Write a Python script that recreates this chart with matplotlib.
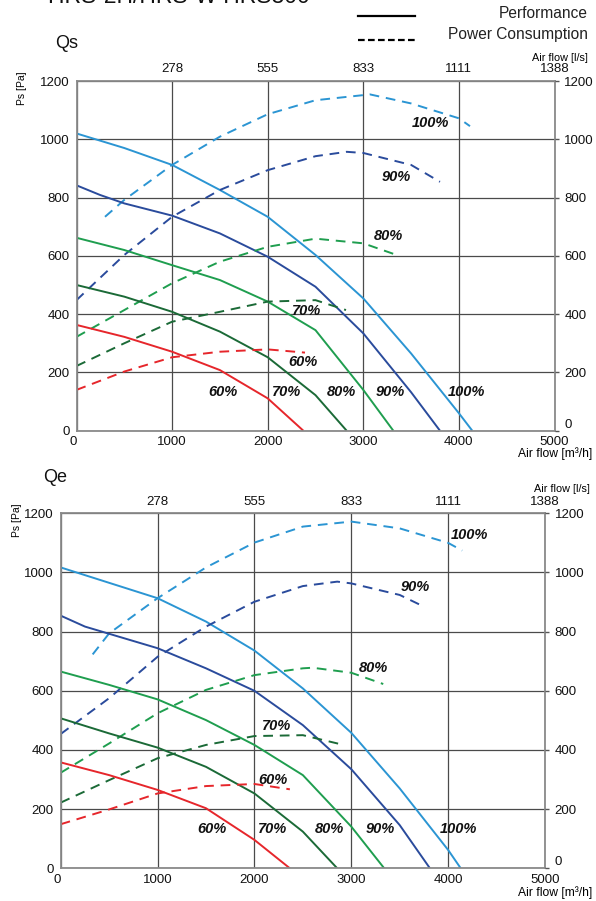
import matplotlib
matplotlib.use("Agg")
import matplotlib.pyplot as plt
from matplotlib.lines import Line2D

plt.rcParams['font.family'] = ['Liberation Sans', 'DejaVu Sans']

# ---------------- data ----------------
levels = ["100%", "90%", "80%", "70%", "60%"]
colors = ["#2b95d3", "#2a4b9c", "#1f9e4f", "#1b6a37", "#e6262b"]

x_ticks = [0, 1000, 2000, 3000, 4000, 5000]
y_ticks = [0, 200, 400, 600, 800, 1000, 1200]
ls_labels = ["278", "555", "833", "1111", "1388"]
ls_pos = [1000, 2000, 3000, 4000, 5000]

# Qs - performance (solid)
qs_perf_x = {
    "100%": [0, 500, 1000, 1500, 2000, 2500, 3000, 3500, 4000, 4140],
    "90%": [0, 246, 500, 1000, 1500, 2000, 2500, 3000, 3500, 3802],
    "80%": [0, 500, 1000, 1500, 2000, 2500, 3000, 3314],
    "70%": [0, 500, 1000, 1500, 2000, 2500, 2826],
    "60%": [0, 500, 1000, 1500, 2000, 2373],
}
qs_perf_y = {
    "100%": [1020, 970, 912, 826, 734, 603, 454, 265, 60, 0],
    "90%": [842, 809, 780, 738, 677, 597, 494, 334, 132, 0],
    "80%": [662, 620, 568, 517, 443, 345, 140, 0],
    "70%": [500, 460, 408, 340, 252, 122, 0],
    "60%": [363, 322, 271, 208, 111, 0],
}
# Qs - power consumption (dashed)
qs_pow_x = {
    "100%": [298, 500, 1000, 1500, 2000, 2500, 3070, 3500, 4000, 4116],
    "90%": [0, 500, 1000, 1500, 2000, 2500, 2826, 3000, 3500, 3802],
    "80%": [0, 500, 1000, 1500, 2000, 2500, 3000, 3349],
    "70%": [0, 500, 1000, 1500, 2000, 2500, 2819],
    "60%": [0, 500, 1000, 1500, 2000, 2390],
}
qs_pow_y = {
    "100%": [734, 792, 912, 1009, 1086, 1134, 1154, 1123, 1072, 1045],
    "90%": [448, 603, 734, 826, 894, 942, 957, 953, 912, 854],
    "80%": [322, 414, 506, 580, 631, 659, 643, 603],
    "70%": [222, 300, 374, 408, 443, 448, 414],
    "60%": [140, 203, 252, 271, 279, 268],
}
qs_pow_lbl = {"100%": (3698, 1055), "90%": (3349, 872), "80%": (3262, 669),
              "70%": (2408, 412), "60%": (2366, 235)}
qs_perf_lbl = {"100%": (4081, 132), "90%": (3279, 132), "80%": (2774, 132),
               "70%": (2199, 132), "60%": (1536, 132)}

# Qe - performance (solid)
qe_perf_x = {
    "100%": [0, 500, 1000, 1500, 2000, 2500, 3000, 3500, 4000, 4130],
    "90%": [0, 251, 1000, 1500, 2000, 2500, 3000, 3500, 3812],
    "80%": [0, 500, 1000, 1500, 2000, 2500, 3000, 3340],
    "70%": [0, 500, 1000, 1500, 2000, 2500, 2855],
    "60%": [0, 500, 1000, 1500, 2000, 2366],
}
qe_perf_y = {
    "100%": [1017, 965, 913, 834, 736, 608, 458, 270, 62, 0],
    "90%": [854, 817, 744, 676, 600, 484, 335, 146, 0],
    "80%": [665, 620, 571, 501, 417, 315, 141, 0],
    "70%": [507, 456, 408, 343, 253, 124, 0],
    "60%": [358, 315, 265, 203, 96, 0],
}
# Qe - power consumption (dashed)
qe_pow_x = {
    "100%": [330, 500, 1000, 1500, 2000, 2500, 3000, 3500, 4000, 4145],
    "90%": [0, 500, 1000, 1500, 2000, 2500, 2855, 3000, 3500, 3753],
    "80%": [0, 500, 1000, 1500, 2000, 2500, 2600, 3000, 3330],
    "70%": [0, 500, 1000, 1500, 2000, 2500, 2883],
    "60%": [0, 500, 1000, 1500, 2000, 2366],
}
qe_pow_y = {
    "100%": [723, 794, 913, 1017, 1101, 1155, 1172, 1149, 1100, 1074],
    "90%": [454, 575, 715, 817, 901, 954, 969, 963, 924, 884],
    "80%": [323, 422, 524, 603, 653, 676, 678, 661, 623],
    "70%": [222, 298, 372, 417, 447, 450, 420],
    "60%": [149, 199, 253, 278, 285, 267],
}
qe_pow_lbl = {"100%": (4217, 1127), "90%": (3656, 950), "80%": (3227, 676),
              "70%": (2229, 482), "60%": (2188, 298)}
qe_perf_lbl = {"100%": (4103, 132), "90%": (3295, 132), "80%": (2779, 132),
               "70%": (2188, 132), "60%": (1558, 132)}

# ---------------- figure ----------------
W, H = 596, 901
fig = plt.figure(figsize=(W / 100, H / 100), dpi=100)


def px_axes(left, top, right, bottom):
    return fig.add_axes([left / W, 1 - bottom / H, (right - left) / W, (bottom - top) / H])


def draw_panel(ax, perf_x, perf_y, pow_x, pow_y, pow_lbl, perf_lbl):
    ax.set_xlim(0, 5000)
    ax.set_ylim(0, 1200)
    ax.set_xticks(x_ticks)
    ax.set_yticks(y_ticks)
    ax.grid(True, color="#4a4a4a", lw=0.9)
    ax.set_axisbelow(True)
    for s in ax.spines.values():
        s.set_color("#8a8a8a")
        s.set_linewidth(1.3)
    ax.tick_params(axis="both", length=0, labelsize=9.5, colors="#111111")
    ax.tick_params(axis="x", pad=4)
    ax.tick_params(axis="y", pad=5)
    for lbl in ax.get_xticklabels():
        if lbl.get_text() == "0":
            lbl.set_horizontalalignment("right")
    for lv, c in zip(levels, colors):
        ax.plot(perf_x[lv], perf_y[lv], color=c, lw=1.4, solid_capstyle="butt")
        ax.plot(pow_x[lv], pow_y[lv], color=c, lw=1.4, dashes=(5, 3.5))
        ax.text(*pow_lbl[lv], lv, ha="center", va="center", fontsize=10.5,
                fontweight="bold", fontstyle="italic", color="#111111")
        ax.text(*perf_lbl[lv], lv, ha="center", va="center", fontsize=10.5,
                fontweight="bold", fontstyle="italic", color="#111111")
    # right-hand pressure scale
    rx = ax.twinx()
    rx.set_ylim(0, 1200)
    rx.set_yticks(y_ticks)
    rx.tick_params(axis="y", length=3, width=1, color="#555555", pad=4,
                   labelsize=9.5, labelcolor="#111111")
    for s in rx.spines.values():
        s.set_visible(False)
    for lbl in rx.get_yticklabels():
        if lbl.get_text() == "0":
            lbl.set_verticalalignment("bottom")
    # top l/s scale
    top = ax.secondary_xaxis("top")
    top.set_xticks(ls_pos)
    top.set_xticklabels(ls_labels)
    top.tick_params(length=0, labelsize=9.5, pad=4, colors="#111111")
    top.spines["top"].set_visible(False)


ax1 = px_axes(76.5, 81, 554.5, 430.7)
draw_panel(ax1, qs_perf_x, qs_perf_y, qs_pow_x, qs_pow_y, qs_pow_lbl, qs_perf_lbl)
ax2 = px_axes(60.7, 513.3, 545, 868.3)
draw_panel(ax2, qe_perf_x, qe_perf_y, qe_pow_x, qe_pow_y, qe_pow_lbl, qe_perf_lbl)


def ftext(x, y, s, **kw):
    fig.text(x / W, 1 - y / H, s, **kw)


# title (cut off at the top of the image)
ftext(48, 3, "HRS-2H/HRS-W HRS300", fontsize=16.5, ha="left", va="baseline", color="#111111")

# legend
fig.add_artist(Line2D([358 / W, 415 / W], [1 - 16 / H, 1 - 16 / H], color="black", lw=1.6))
fig.add_artist(Line2D([358 / W, 415 / W], [1 - 40 / H, 1 - 40 / H], color="black", lw=1.6,
                      dashes=(3, 1.5)))
ftext(588, 13, "Performance", fontsize=11.2, ha="right", va="center", color="#222222")
ftext(588, 35, "Power Consumption", fontsize=11.2, ha="right", va="center", color="#222222")

# panel titles
ftext(55, 44, "Qs", fontsize=13, ha="left", va="center", color="#111111")
ftext(43, 478, "Qe", fontsize=13, ha="left", va="center", color="#111111")

# axis labels
ftext(22, 88, "Ps [Pa]", fontsize=7.5, rotation=90, ha="center", va="center")
ftext(17, 520, "Ps [Pa]", fontsize=7.5, rotation=90, ha="center", va="center")
ftext(588, 58, "Air flow [l/s]", fontsize=7.8, ha="right", va="center")
ftext(590, 489, "Air flow [l/s]", fontsize=7.8, ha="right", va="center")
ftext(592, 454, "Air flow [m³/h]", fontsize=8.7, ha="right", va="center")
ftext(592, 893, "Air flow [m³/h]", fontsize=8.7, ha="right", va="center")

fig.savefig("out.png", dpi=100, facecolor="white")
